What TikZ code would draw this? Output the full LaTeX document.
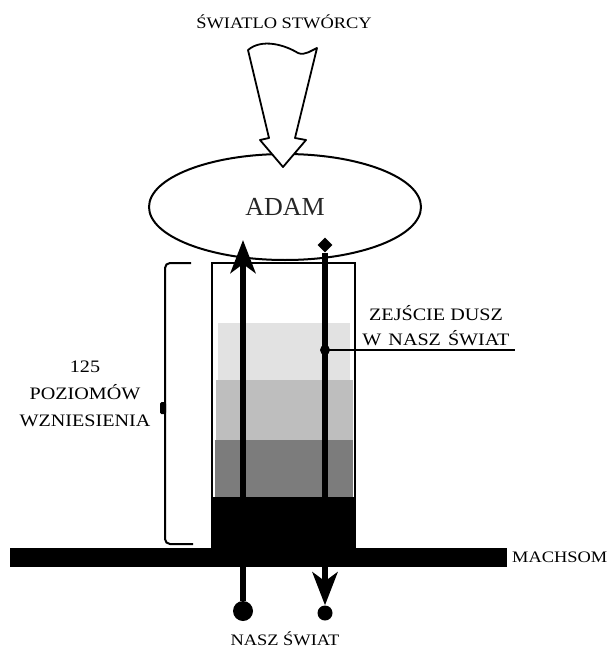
\documentclass[tikz,border=0pt]{standalone}
\usepackage{fontspec}
\setmainfont{Liberation Serif}
\newfontfamily\widefont[FakeStretch=1.15]{Liberation Serif}
\usepackage{xcolor}
\usepackage{tikz}
\usetikzlibrary{arrows.meta,shapes.geometric}

\definecolor{levelA}{HTML}{E2E2E2}
\definecolor{levelB}{HTML}{BEBEBE}
\definecolor{levelC}{HTML}{7C7C7C}

\begin{document}
\begin{tikzpicture}[x=1pt,y=-1pt,
    lbl/.style={font=\widefont\fontsize{16}{28}\selectfont,text=black,inner sep=0pt},
    biglbl/.style={lbl,font=\widefont\fontsize{17.5}{27}\selectfont},
    dot/.style={circle,fill=black,inner sep=0pt,minimum size=#1},
    flow/.style={line width=6pt,-{Stealth[length=33pt,width=25pt,inset=9pt]}}]
    \useasboundingbox (0,0) rectangle (607,650);

    % levels of the column
    \fill[levelA] (218,323) rectangle (350,380);
    \fill[levelB] (216,380) rectangle (353,440);
    \fill[levelC] (215,440) rectangle (353,497);
    \fill[black] (212,497) rectangle (355,548);
    \draw[line width=1.8pt] (212,263) rectangle (355,548);

    % machsom
    \fill[black] (10,548) rectangle (507,567);
    \node[lbl,anchor=west] (machsom) at (512,557) {MACHSOM};

    \node[draw,ellipse,line width=2pt,minimum width=272pt,minimum height=106pt,
        inner sep=0pt,text=black!85,font=\fontsize{26}{28}\selectfont] (adam) at (285,207) {ADAM};

    % light coming down
    \node[lbl] (title) at (284,22) {ŚWIATLO STWÓRCY};
    \draw[line width=1.8pt,fill=white,line join=round]
        (248,50) .. controls (262,38) and (285,45) .. (298,53)
        .. controls (305,56) and (312,50) .. (317,48)
        -- (295,138) -- (306,140) -- (283,167) -- (260,140) -- (269,138) -- cycle;

    % bracket for the levels
    \draw[line width=2pt,rounded corners=5pt] (191,263) -- (165,263) -- (165,544) -- (193,544);
    \fill[rounded corners=1.5pt] (160,402) rectangle (166,414);
    \node[biglbl,align=center] (levels) at (85,394) {125\\POZIOMÓW\\WZNIESIENIA};

    % way up
    \node[dot=20pt] (inL) at (243,611) {};
    \coordinate (topL) at (243,240);
    \draw[flow] (inL) -- (topL);

    % way down
    \node[diamond,fill=black,inner sep=0pt,minimum size=15pt] (outT) at (325,245) {};
    \node[dot=15pt] (outB) at (325,613) {};
    \draw[flow] (outT) -- (outB);
    \node[lbl] (world) at (285,639) {NASZ ŚWIAT};

    \node[dot=10pt] (junction) at (325,350) {};
    \coordinate (descentEnd) at (515,350);
    \draw[line width=2.5pt] (junction.center) -- (descentEnd);
    \node[biglbl,font=\widefont\fontsize{17.5}{25}\selectfont,align=center]
        (descent) at (436,326) {ZEJŚCIE DUSZ\\W\hspace{7pt}NASZ\hspace{7pt}ŚWIAT};
\end{tikzpicture}
\end{document}
